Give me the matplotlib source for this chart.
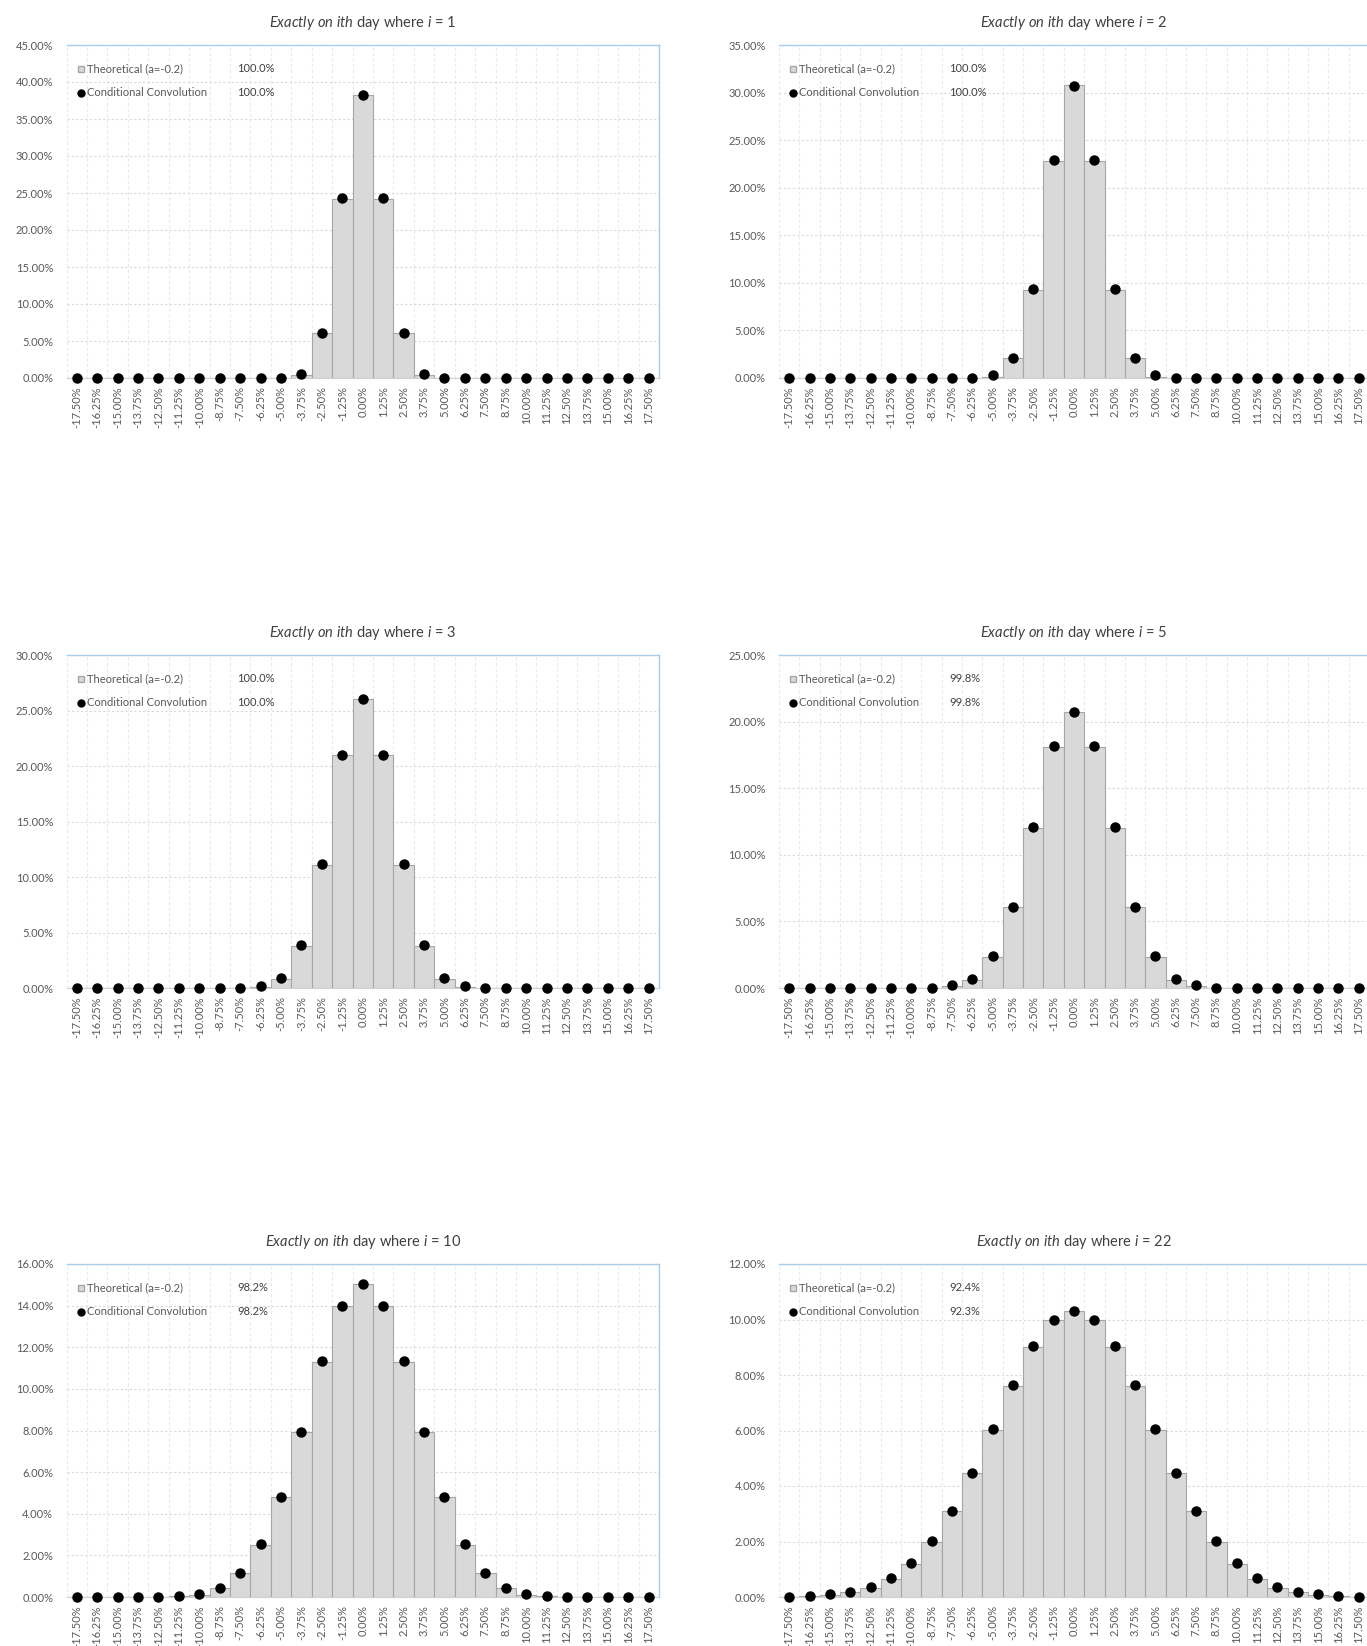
import matplotlib.pyplot as plt
import numpy as np

plt.rcParams['font.family'] = ['Lato', 'DejaVu Sans']
plt.rcParams['mathtext.fontset'] = 'custom'
plt.rcParams['mathtext.it'] = 'Lato:italic'
plt.rcParams['mathtext.rm'] = 'Lato'

# подписи категорий (доходность за день)
x_labels = ["-17.50%", "-16.25%", "-15.00%", "-13.75%", "-12.50%", "-11.25%",
            "-10.00%", "-8.75%", "-7.50%", "-6.25%", "-5.00%", "-3.75%",
            "-2.50%", "-1.25%", "0.00%", "1.25%", "2.50%", "3.75%", "5.00%",
            "6.25%", "7.50%", "8.75%", "10.00%", "11.25%", "12.50%", "13.75%",
            "15.00%", "16.25%", "17.50%"]

days = [1, 2, 3, 5, 10, 22]

# значения в процентах: столбцы (теория) и точки (свёртка)
theo_1 = [0, 0, 0, 0, 0, 0, 0, 0, 0, 0, 0, 0.45, 6.1, 24.2, 38.2, 24.2, 6.1, 0.45,
          0, 0, 0, 0, 0, 0, 0, 0, 0, 0, 0]
conv_1 = [0, 0, 0, 0, 0, 0, 0, 0, 0, 0, 0, 0.55, 6.1, 24.3, 38.3, 24.3, 6.1, 0.55,
          0, 0, 0, 0, 0, 0, 0, 0, 0, 0, 0]

theo_2 = [0, 0, 0, 0, 0, 0, 0, 0, 0, 0, 0.15, 2.1, 9.3, 22.8, 30.8, 22.8, 9.3, 2.1,
          0.15, 0, 0, 0, 0, 0, 0, 0, 0, 0, 0]
conv_2 = [0, 0, 0, 0, 0, 0, 0, 0, 0, 0, 0.3, 2.1, 9.4, 22.9, 30.7, 22.9, 9.4, 2.1,
          0.3, 0, 0, 0, 0, 0, 0, 0, 0, 0, 0]

theo_3 = [0, 0, 0, 0, 0, 0, 0, 0, 0, 0.1, 0.85, 3.8, 11.1, 21.0, 26.0, 21.0, 11.1,
          3.8, 0.85, 0.1, 0, 0, 0, 0, 0, 0, 0, 0, 0]
conv_3 = [0, 0, 0, 0, 0, 0, 0, 0, 0, 0.15, 0.9, 3.9, 11.2, 21.0, 26.0, 21.0, 11.2,
          3.9, 0.9, 0.15, 0, 0, 0, 0, 0, 0, 0, 0, 0]

theo_5 = [0, 0, 0, 0, 0, 0, 0, 0.02, 0.15, 0.6, 2.35, 6.1, 12.0, 18.1, 20.75, 18.1,
          12.0, 6.1, 2.35, 0.6, 0.15, 0.02, 0, 0, 0, 0, 0, 0, 0]
conv_5 = [0, 0, 0, 0, 0, 0, 0, 0.03, 0.2, 0.7, 2.4, 6.1, 12.06, 18.14, 20.73, 18.14,
          12.06, 6.1, 2.4, 0.7, 0.2, 0.03, 0, 0, 0, 0, 0, 0, 0]

theo_10 = [0, 0, 0, 0, 0.01, 0.03, 0.12, 0.42, 1.15, 2.5, 4.8, 7.93, 11.3, 14.0,
           15.05, 14.0, 11.3, 7.93, 4.8, 2.5, 1.15, 0.42, 0.12, 0.03, 0.01, 0, 0, 0, 0]
conv_10 = [0, 0, 0, 0, 0.02, 0.05, 0.16, 0.45, 1.17, 2.53, 4.82, 7.94, 11.33, 14.0,
           15.06, 14.0, 11.33, 7.94, 4.82, 2.53, 1.17, 0.45, 0.16, 0.05, 0.02, 0, 0, 0, 0]

theo_22 = [0.01, 0.02, 0.08, 0.17, 0.33, 0.66, 1.2, 2.0, 3.1, 4.47, 6.03, 7.62, 9.01,
           9.97, 10.3, 9.97, 9.01, 7.62, 6.03, 4.47, 3.1, 2.0, 1.2, 0.66, 0.33, 0.17,
           0.08, 0.02, 0.01]
conv_22 = [0.01, 0.03, 0.1, 0.19, 0.37, 0.69, 1.22, 2.02, 3.11, 4.48, 6.05, 7.63, 9.03,
           9.98, 10.31, 9.98, 9.03, 7.63, 6.05, 4.48, 3.11, 2.02, 1.22, 0.69, 0.37, 0.19,
           0.1, 0.03, 0.01]

theo_totals = ["100.0%", "100.0%", "100.0%", "99.8%", "98.2%", "92.4%"]
conv_totals = ["100.0%", "100.0%", "100.0%", "99.8%", "98.2%", "92.3%"]

y_max = [45, 35, 30, 25, 16, 12]
y_step = [5, 5, 5, 5, 2, 2]

theo_all = [theo_1, theo_2, theo_3, theo_5, theo_10, theo_22]
conv_all = [conv_1, conv_2, conv_3, conv_5, conv_10, conv_22]

W, H = 1367, 1646
fig = plt.figure(figsize=(W / 100, H / 100), dpi=100)

# положения графиков в пикселях: (left, top, width, height)
lefts = [66.5, 779]
widths = [592.5, 590]
tops = [45, 655, 1264]
height = 333

text_gray = '#595959'

for k in range(6):
    r, c = k // 2, k % 2
    l, t, w = lefts[c], tops[r], widths[c]
    ax = fig.add_axes([l / W, 1 - (t + height) / H, w / W, height / H])

    x = np.arange(len(x_labels))
    ax.bar(x, theo_all[k], width=1.0, color='#d9d9d9', edgecolor='#a6a6a6',
           linewidth=0.8, zorder=2)
    ax.plot(x, conv_all[k], 'o', color='black', markersize=6.5, clip_on=False, zorder=3)

    ax.set_xlim(-0.5, len(x_labels) - 0.5)
    ax.set_ylim(0, y_max[k])
    yt = np.arange(0, y_max[k] + 0.01, y_step[k])
    ax.set_yticks(yt)
    ax.set_yticklabels(['%.2f%%' % v for v in yt], fontsize=8, color=text_gray)
    ax.set_xticks(x)
    ax.set_xticklabels(x_labels, rotation=90, fontsize=8, color=text_gray)
    ax.set_xticks(np.arange(-0.5, len(x_labels)), minor=True)
    ax.tick_params(axis='both', which='both', length=0)
    ax.tick_params(axis='y', pad=9.5)
    ax.tick_params(axis='x', pad=6)

    ax.yaxis.grid(True, color='#d9d9d9', linestyle=(0, (2, 2)), linewidth=0.8, zorder=0)
    ax.xaxis.grid(True, which='minor', color='#ebebeb', linestyle=(0, (3, 2)),
                  linewidth=0.8, zorder=0)
    ax.set_axisbelow(True)

    for s in ['top', 'right']:
        ax.spines[s].set_color('#a9cde8')
        ax.spines[s].set_linewidth(1.0)
    ax.spines['left'].set_visible(False)
    ax.spines['bottom'].set_color('#d0d0d0')

    # заголовок
    ax.text(0.5, 1 + 22 / height,
            r"$\mathit{Exactly\ on\ ith}$ day where $\mathit{i}$ = %d" % days[k],
            transform=ax.transAxes, ha='center', va='center', fontsize=10.5,
            color='#404040')

    # легенда вручную
    ax.plot([0.024], [0.928], 's', transform=ax.transAxes, color='#d9d9d9',
            markeredgecolor='#a6a6a6', markersize=4, clip_on=False, zorder=4)
    ax.plot([0.024], [0.857], 'o', transform=ax.transAxes, color='black',
            markersize=5, clip_on=False, zorder=4)
    ax.text(0.034, 0.928, 'Theoretical (a=-0.2)', transform=ax.transAxes,
            va='center', fontsize=8, color=text_gray)
    ax.text(0.034, 0.857, 'Conditional Convolution', transform=ax.transAxes,
            va='center', fontsize=8, color=text_gray)
    ax.text(0.288, 0.928, theo_totals[k], transform=ax.transAxes,
            va='center', fontsize=8, color='#404040')
    ax.text(0.288, 0.857, conv_totals[k], transform=ax.transAxes,
            va='center', fontsize=8, color='#404040')

fig.savefig('out.png', dpi=100, facecolor='white')
